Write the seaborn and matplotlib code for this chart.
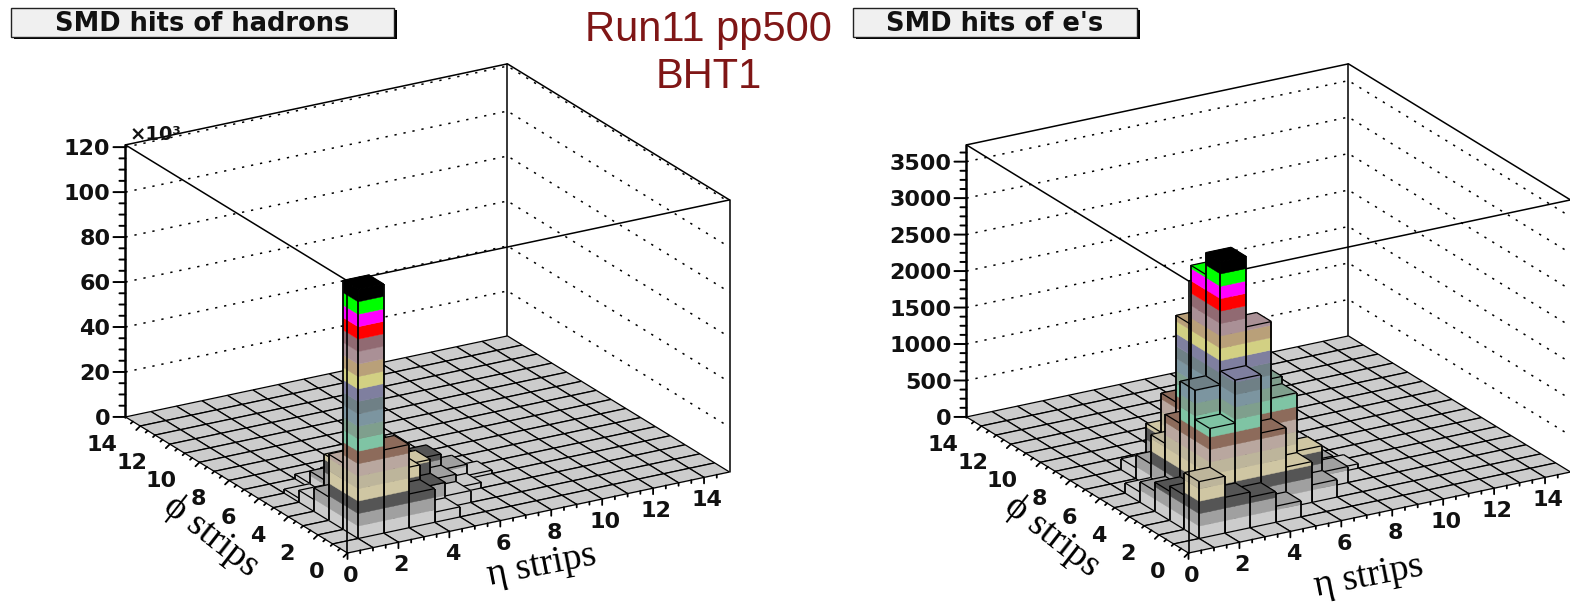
import numpy as np
import matplotlib
matplotlib.use('Agg')
import matplotlib.pyplot as plt
import seaborn as sns
from matplotlib.patches import Rectangle
from mpl_toolkits.mplot3d.art3d import Poly3DCollection, Line3DCollection

# lego colours, bottom band to top band
band_colors = ['#cccccc', '#a0a0a0', '#555555', '#cfc6a3', '#bdb59b', '#b9a79f', '#8d6b5b',
               '#7fc4a4', '#7f9f8d', '#7c95a0', '#6f8086', '#7f7f9f', '#d2d083', '#b9a079',
               '#aa9096', '#916a72', '#ff0000', '#ff00ff', '#00ff00', '#000000']

# hadrons (counts in units of 10^3)
had_x = [1, 2, 3, 4, 1, 1, 1, 1, 2, 3, 4, 5, 2, 3, 4, 5, 6, 2, 2, 3, 3, 4, 5, 6, 7, 2, 3, 4, 5]
had_y = [1, 1, 1, 1, 2, 3, 4, 5, 2, 2, 2, 2, 3, 3, 3, 3, 3, 4, 5, 4, 5, 4, 4, 4, 4, 6, 6, 5, 5]
had_counts = [110.8, 37, 15, 4.5, 29.5, 10.5, 5.3, 1.8, 34, 21.5, 11.3, 5.3, 17, 22, 17.5, 8.5, 2.5,
              19, 7.5, 18, 8, 16, 13.5, 6.5, 1.5, 2, 2.5, 7, 3]
had_step = 5.54
had_zmax = 121
had_zticks = [0, 20, 40, 60, 80, 100, 120]
had_zminor = 5

# electrons
ele_x = [3, 3, 4, 3, 2, 3, 2, 4, 2, 3, 5, 5, 1, 2, 3, 4, 5, 6, 7, 6, 7, 2, 3, 2, 2, 1, 1, 1, 1, 4, 4, 5, 8]
ele_y = [3, 4, 3, 5, 3, 2, 2, 2, 4, 6, 3, 4, 1, 1, 1, 1, 2, 2, 3, 3, 4, 5, 7, 6, 7, 2, 3, 4, 5, 4, 5, 5, 4]
ele_counts = [3398, 3100, 2430, 2290, 1710, 1900, 1310, 1100, 1130, 1100, 1380, 1480, 780, 490, 420, 220,
              560, 240, 220, 580, 240, 730, 560, 330, 150, 470, 400, 280, 140, 1500, 1000, 800, 60]
ele_step = 170
ele_zmax = 3730
ele_zticks = [0, 500, 1000, 1500, 2000, 2500, 3000, 3500]
ele_zminor = 125

strip_ticks = [0, 2, 4, 6, 8, 10, 12, 14]
strip_minor = [0.5 * k for k in range(30)]
n_strips = 15

W, H = 1570, 603
vec_x = np.array([382.0, -81.0]) / n_strips   # pixels per strip, y pointing down
vec_y = np.array([-222.0, -136.0]) / n_strips
z_pixels = 272.0
px_to_data = np.linalg.inv(np.array([vec_x, vec_y]).T)

sns.set_style('white')
palette = sns.color_palette(band_colors)
font_bold = {'family': 'DejaVu Sans', 'weight': 'bold', 'color': '#111111'}


def shift(dx, dy):
    return px_to_data @ np.array([dx, dy])


def fig_xy(px, py):
    return px / W, 1 - py / H


def place_axes(ax, front_x, front_y):
    # put the (0,0,0) corner on the given pixel
    ax.set_xlim(0, n_strips)
    ax.set_ylim(0, n_strips)
    M = ax.get_proj()
    p0 = M @ np.array([0, 0, ax.get_zlim()[0], 1.0])
    p1 = M @ np.array([n_strips, 0, ax.get_zlim()[0], 1.0])
    p0, p1 = p0[:2] / p0[3], p1[:2] / p1[3]
    k = 382.0 / (p1[0] - p0[0])
    xl, xr = ax.viewLim.intervalx
    yb, yt = ax.viewLim.intervaly
    left = front_x - (p0[0] - xl) * k
    bottom = (H - front_y) - (p0[1] - yb) * k
    ax.set_position([left / W, bottom / H, (xr - xl) * k / W, (yt - yb) * k / H])


def draw_frame(ax, fx, fy, zmax, zticks, zminor):
    line = dict(color='k', lw=1.1, clip_on=False, zorder=1)
    dots = dict(color='k', lw=1.1, ls=(0, (1.5, 4.5)), clip_on=False, zorder=1)
    n = n_strips
    ax.plot([0, n, n], [n, n, 0], [zmax] * 3, **line)
    ax.plot([0, 0, n], [n, 0, 0], [zmax] * 3, **line)
    ax.plot([n, n], [n, n], [0, zmax], **line)
    ax.plot([n, n], [0, 0], [0, zmax], **line)
    for z in zticks[1:]:
        ax.plot([0, n, n], [n, n, 0], [z] * 3, **dots)
    # z axis
    ax.plot([0, 0], [n, n], [0, zmax], color='k', lw=1.8, clip_on=False, zorder=1)
    dm = shift(-12, 0)
    dn = shift(-6, 0)
    for z in np.arange(0, zmax, zminor):
        d = dm if z in zticks else dn
        ax.plot([0, d[0]], [n, n + d[1]], [z, z], color='k', lw=1.4, clip_on=False, zorder=1)
    for z in zticks:
        tx, ty = fig_xy(fx + n * vec_y[0] - 15, fy + n * vec_y[1] - z / zmax * z_pixels + 2)
        fig.text(tx, ty, str(z), ha='right', va='center', fontsize=16, **font_bold)


def draw_bars(ax, xs, ys, counts, step):
    heights = np.zeros((n_strips, n_strips))
    heights[xs, ys] = counts
    cells = sorted(((i, j) for i in range(n_strips) for j in range(n_strips)), key=lambda c: -(c[0] + c[1]))
    z_rank = 2
    for i, j in cells:
        h = heights[i, j]
        polys, cols = [], []
        k = 0
        while k * step < h:
            lo, hi = k * step, min((k + 1) * step, h)
            c = palette[min(k, len(palette) - 1)]
            polys.append([(i, j, lo), (i + 1, j, lo), (i + 1, j, hi), (i, j, hi)])
            polys.append([(i, j, lo), (i, j + 1, lo), (i, j + 1, hi), (i, j, hi)])
            cols += [c, c]
            k += 1
        top = palette[min(int(h / step), len(palette) - 1)]
        polys.append([(i, j, h), (i + 1, j, h), (i + 1, j + 1, h), (i, j + 1, h)])
        cols.append(top)
        faces = Poly3DCollection(polys, facecolors=cols, edgecolors=cols, linewidths=0.3)
        faces.set_zorder(z_rank)
        ax.add_collection3d(faces, autolim=False)
        # thin rim round the top, heavier verticals
        rim = [[(i, j, h), (i + 1, j, h)], [(i, j, h), (i, j + 1, h)],
               [(i + 1, j, h), (i + 1, j + 1, h)], [(i, j + 1, h), (i + 1, j + 1, h)]]
        edges = Line3DCollection(rim, colors='k', linewidths=0.9)
        edges.set_zorder(z_rank + 1)
        ax.add_collection3d(edges, autolim=False)
        if h > 0:
            posts = [[(i, j, 0), (i, j, h)], [(i + 1, j, 0), (i + 1, j, h)], [(i, j + 1, 0), (i, j + 1, h)]]
            verts = Line3DCollection(posts, colors='k', linewidths=1.3)
            verts.set_zorder(z_rank + 1)
            ax.add_collection3d(verts, autolim=False)
        z_rank += 2
    return z_rank


def draw_strip_axes(ax, fx, fy, z_top, zmax):
    # front vertical stays on top of the bars
    ax.plot([0, 0], [0, 0], [0, zmax], color='k', lw=1.2, clip_on=False, zorder=z_top)
    tx = shift(0, 3)
    ty = shift(-2, 2)
    for t in strip_minor:
        big = t in strip_ticks
        f = 2 if big else 1
        ax.plot([t, t + f * tx[0]], [0, f * tx[1]], [0, 0], color='k', lw=1.3, clip_on=False, zorder=z_top)
        ax.plot([f * ty[0], 0], [t + f * ty[1], t], [0, 0], color='k', lw=1.3, clip_on=False, zorder=z_top)
    for t in strip_ticks:
        lx, ly = fig_xy(fx + t * vec_x[0] + 3, fy + t * vec_x[1] + 23)
        fig.text(lx, ly, str(t), ha='center', va='center', fontsize=16, **font_bold)
        lx, ly = fig_xy(fx + t * vec_y[0] - 23, fy + t * vec_y[1] + 19)
        fig.text(lx, ly, str(t), ha='right', va='center', fontsize=16, **font_bold)


fig = plt.figure(figsize=(W / 100, H / 100), dpi=100, facecolor='white')

panels = [
    (347.5, 553, had_x, had_y, had_counts, had_step, had_zmax, had_zticks, had_zminor),
    (1188.5, 553, ele_x, ele_y, ele_counts, ele_step, ele_zmax, ele_zticks, ele_zminor),
]
for fx, fy, xs, ys, counts, step, zmax, zticks, zminor in panels:
    ax = fig.add_axes([0, 0, 0.4, 0.4], projection='3d', proj_type='ortho', computed_zorder=False)
    ax.view_init(elev=21.13, azim=-120.47)
    ax.set_box_aspect((443.1, 437.8, 291.6))
    ax.set_zlim(0, zmax)
    place_axes(ax, fx, fy)
    ax.set_axis_off()
    draw_frame(ax, fx, fy, zmax, zticks, zminor)
    top = draw_bars(ax, xs, ys, counts, step)
    draw_strip_axes(ax, fx, fy, top, zmax)
    ax.set_xlim(0, n_strips)
    ax.set_ylim(0, n_strips)
    ax.set_zlim(0, zmax)


def title_box(x0, x1, text):
    y0, y1 = 8, 37
    fig.add_artist(Rectangle(fig_xy(x0 + 3, y1 + 2), (x1 - x0) / W, (y1 - y0) / H, transform=fig.transFigure,
                             facecolor='k', edgecolor='k', lw=0))
    fig.add_artist(Rectangle(fig_xy(x0, y1), (x1 - x0) / W, (y1 - y0) / H, transform=fig.transFigure,
                             facecolor='#f0f0f0', edgecolor='#222222', lw=1))
    tx, ty = fig_xy((x0 + x1) / 2, 24)
    fig.text(tx, ty, text, ha='center', va='center', fontsize=18.5, **font_bold)


title_box(11, 394, 'SMD hits of hadrons')
title_box(853, 1137, "SMD hits of e's")

red = '#7f1616'
for py, s in [(30, 'Run11 pp500'), (77, 'BHT1')]:
    tx, ty = fig_xy(708.5, py)
    fig.text(tx, ty, s, ha='center', va='center', color=red, fontsize=30, family=['Liberation Sans'])

tx, ty = fig_xy(155, 134)
fig.text(tx, ty, '×10³', ha='center', va='center', fontsize=14, **font_bold)

serif = ['Liberation Serif', 'DejaVu Serif']
for px, py, s, rot in [(211, 536, 'ϕ strips', -38), (542, 566, 'η strips', 11),
                       (1052, 536, 'ϕ strips', -38), (1369, 577, 'η strips', 11)]:
    tx, ty = fig_xy(px, py)
    fig.text(tx, ty, s, ha='center', va='center', rotation=rot, rotation_mode='anchor', fontsize=27, color='k', family=serif)

fig.savefig('out.png', dpi=100)
